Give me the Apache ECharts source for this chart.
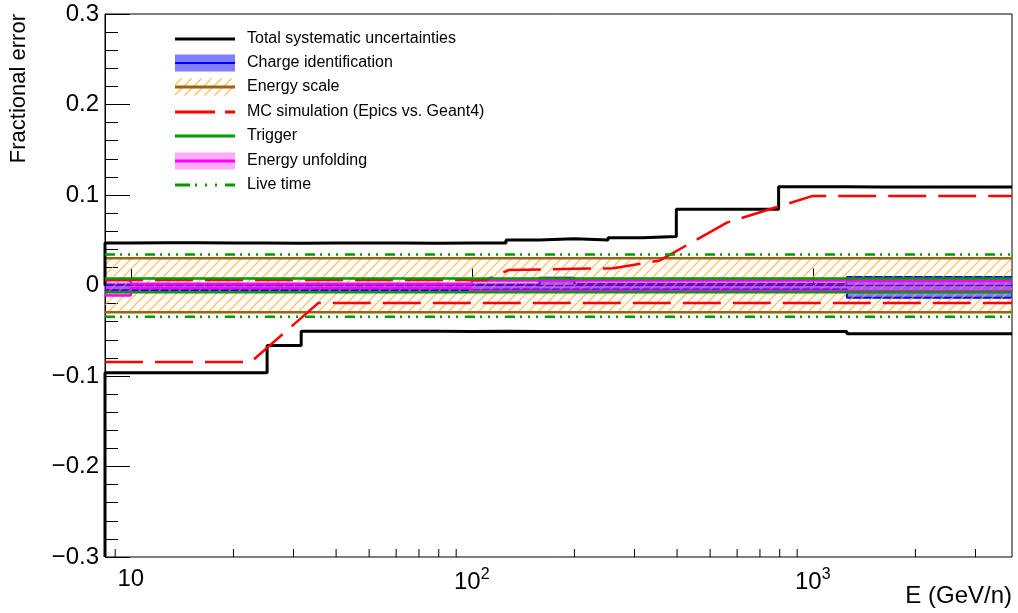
<!DOCTYPE html>
<html><head><meta charset="utf-8">
<script src="https://cdn.jsdelivr.net/npm/echarts@6/dist/echarts.min.js"></script>
<style>html,body{margin:0;padding:0;background:#fff}#c{width:1018px;height:613px}</style>
</head><body><div id="c"></div>
<script>
// ---------- data ----------
const binEdges = [8.4, 10, 12.6, 15.8, 20, 25.1, 31.6, 39.8, 50.1, 63.1, 79.4, 100, 126, 158, 200, 251, 316, 398, 501, 631, 794, 1000, 1259, 1585, 1995, 2512, 3162, 3840];
const totalUpper = [0.0470,0.0472,0.0472,0.0470,0.0470,0.0468,0.0470,0.0470,0.0470,0.0468,0.0470,0.0470,0.0503,0.0516,0.0503,0.0527,0.0541,0.0843,0.0843,0.0843,0.1090,0.1090,0.1088,0.1088,0.1088,0.1088,0.1088];
const totalLower = [-0.0965,-0.0965,-0.0965,-0.0965,-0.0965,-0.0663,-0.0505,-0.0505,-0.0505,-0.0505,-0.0508,-0.0505,-0.0508,-0.0508,-0.0508,-0.0508,-0.0508,-0.0508,-0.0508,-0.0508,-0.0508,-0.0508,-0.0534,-0.0534,-0.0534,-0.0534,-0.0534];
const chargeUpper = [0.001,0.001,0.001,0.001,0.001,0.001,0.001,0.001,0.001,0.001,0.001,0.001,0.001,0.0085,0.002,0.002,0.002,0.002,0.002,0.002,0.002,0.002,0.0095,0.0095,0.0095,0.0095,0.0095];
const chargeLower = [-0.0050,-0.0050,-0.0050,-0.0050,-0.0050,-0.0050,-0.0050,-0.0050,-0.0050,-0.0050,-0.0050,-0.0045,-0.0045,-0.0045,-0.0045,-0.0045,-0.0045,-0.0045,-0.0045,-0.0045,-0.0045,-0.0045,-0.0136,-0.0136,-0.0136,-0.0136,-0.0136];
const escaleUpper = [0.0300,0.0300,0.0300,0.0300,0.0300,0.0300,0.0300,0.0300,0.0300,0.0300,0.0300,0.0300,0.0300,0.0300,0.0300,0.0300,0.0300,0.0300,0.0300,0.0300,0.0300,0.0300,0.0300,0.0300,0.0300,0.0300,0.0300];
const escaleLower = [-0.0296,-0.0296,-0.0296,-0.0296,-0.0296,-0.0296,-0.0296,-0.0296,-0.0296,-0.0296,-0.0296,-0.0296,-0.0296,-0.0296,-0.0296,-0.0296,-0.0296,-0.0296,-0.0296,-0.0296,-0.0296,-0.0296,-0.0296,-0.0296,-0.0296,-0.0296,-0.0296];
const triggerUpper = [0.0077,0.0077,0.0077,0.0077,0.0077,0.0077,0.0077,0.0077,0.0077,0.0077,0.0077,0.0077,0.0077,0.0077,0.0077,0.0077,0.0077,0.0077,0.0077,0.0077,0.0077,0.0077,0.0077,0.0077,0.0077,0.0077,0.0077];
const triggerLower = [-0.0074,-0.0074,-0.0074,-0.0074,-0.0074,-0.0074,-0.0074,-0.0074,-0.0074,-0.0074,-0.0074,-0.0074,-0.0074,-0.0074,-0.0074,-0.0074,-0.0074,-0.0074,-0.0074,-0.0074,-0.0074,-0.0074,-0.0074,-0.0074,-0.0074,-0.0074,-0.0074];
const unfoldUpper = [0.0066,0.0020,0.0020,0.0020,0.0020,0.0020,0.0020,0.0020,0.0020,0.0020,0.0020,0.0055,0.0055,0.0055,0.0055,0.0055,0.0055,0.0055,0.0055,0.0055,0.0055,0.0055,0.0052,0.0052,0.0052,0.0052,0.0052];
const unfoldLower = [-0.011,-0.003,-0.003,-0.003,-0.003,-0.003,-0.003,-0.003,-0.003,-0.003,-0.003,-0.006,-0.006,-0.006,-0.006,-0.006,-0.006,-0.006,-0.006,-0.006,-0.006,-0.006,-0.0063,-0.0063,-0.0063,-0.0063,-0.0063];
const liveUpper = [0.0343,0.0343,0.0343,0.0343,0.0343,0.0343,0.0343,0.0343,0.0343,0.0343,0.0343,0.0343,0.0343,0.0343,0.0343,0.0343,0.0343,0.0343,0.0343,0.0343,0.0343,0.0343,0.0343,0.0343,0.0343,0.0343,0.0343];
const liveLower = [-0.0346,-0.0346,-0.0346,-0.0346,-0.0346,-0.0346,-0.0346,-0.0346,-0.0346,-0.0346,-0.0346,-0.0346,-0.0346,-0.0346,-0.0346,-0.0346,-0.0346,-0.0346,-0.0346,-0.0346,-0.0346,-0.0346,-0.0346,-0.0346,-0.0346,-0.0346,-0.0346];
const mcUpperE = [8.4, 110, 128, 200, 260, 355, 560, 1000, 3840];
const mcUpperV = [0.006, 0.006, 0.017, 0.0185, 0.019, 0.0275, 0.0695, 0.099, 0.099];
const mcLowerE = [8.4, 22.5, 35.5, 3840];
const mcLowerV = [-0.0845, -0.0845, -0.0192, -0.0192];
const xMinorTicks = [9, 20, 30, 40, 50, 60, 70, 80, 90, 200, 300, 400, 500, 600, 700, 800, 900, 2000, 3000];
const legendLabels = ['Total systematic uncertainties', 'Charge identification', 'Energy scale', 'MC simulation (Epics vs. Geant4)', 'Trigger', 'Energy unfolding', 'Live time'];
const xTitle = 'E (GeV/n)';
const yTitle = 'Fractional error';
const xMin = 8.4, xMax = 3840, yMin = -0.3, yMax = 0.3;

// ---------- helpers ----------
function stepPoints(edges, vals, startY) {
  const pts = [];
  if (startY !== undefined) pts.push([edges[0], startY]);
  for (let i = 0; i < vals.length; i++) { pts.push([edges[i], vals[i]]); pts.push([edges[i + 1], vals[i]]); }
  return pts;
}
function zipPts(xs, ys) { return xs.map((x, i) => [x, ys[i]]); }
function bandItems(edges, lo, hi) { return lo.map((v, i) => [edges[i], edges[i + 1], v, hi[i]]); }

const HATCH = '#ffa928', HATCH_STEP = 10;
function hatchLines(x0, x1, yT, yB) {
  const out = [];
  for (let c = Math.ceil((x0 + yT) / HATCH_STEP) * HATCH_STEP; c <= x1 + yB; c += HATCH_STEP) {
    const xa = Math.max(x0, c - yB), xb = Math.min(x1, c - yT);
    if (xb > xa) out.push({ type: 'line', silent: true, shape: { x1: xa, y1: c - xa, x2: xb, y2: c - xb }, style: { stroke: HATCH, lineWidth: 1.2, opacity: 0.75 } });
  }
  return out;
}

function bandSeries(name, items, fill, z, hatched) {
  return {
    type: 'custom', name, data: items, z, silent: true, clip: true,
    encode: { x: [0, 1], y: [2, 3] },
    renderItem(params, api) {
      const a = api.coord([api.value(0), api.value(3)]);
      const b = api.coord([api.value(1), api.value(2)]);
      const x0 = Math.round(a[0]), x1 = Math.round(b[0]);
      if (hatched) return { type: 'group', children: hatchLines(x0, x1, a[1], b[1]) };
      return { type: 'rect', shape: { x: x0, y: a[1], width: x1 - x0, height: b[1] - a[1] }, style: { fill } };
    }
  };
}
function lineSeries(name, data, color, width, dash, z) {
  return {
    type: 'line', name, data, z, symbol: 'none', silent: true, animation: false,
    lineStyle: { color, width, type: dash || 'solid' }
  };
}

const BLUE = '#0000ff', BLUEFILL = 'rgba(0,0,255,0.5)', BROWN = '#9c6410', RED = '#ff0000',
  GREEN = '#009900', MAG = '#ff00ff', PINK = 'rgba(255,0,255,0.33)';
const mcDash = [38, 12];
const liveDash = [10, 5, 2, 6, 2, 6, 2, 7];

const series = [
  bandSeries('Charge identification', bandItems(binEdges, chargeLower, chargeUpper), BLUEFILL, 1),
  lineSeries('cu', stepPoints(binEdges, chargeUpper), BLUE, 2, null, 2),
  lineSeries('cl', stepPoints(binEdges, chargeLower), BLUE, 2, null, 2),
  bandSeries('Energy scale', bandItems(binEdges, escaleLower, escaleUpper), null, 3, true),
  lineSeries('eu', stepPoints(binEdges, escaleUpper), BROWN, 2.5, null, 4),
  lineSeries('el', stepPoints(binEdges, escaleLower), BROWN, 2.5, null, 4),
  bandSeries('Energy unfolding', bandItems(binEdges, unfoldLower, unfoldUpper), PINK, 5),
  lineSeries('uu', stepPoints(binEdges, unfoldUpper), MAG, 2.5, null, 6),
  lineSeries('ul', stepPoints(binEdges, unfoldLower), MAG, 2.5, null, 6),
  lineSeries('tu', stepPoints(binEdges, totalUpper, 0), '#000', 3, null, 7),
  lineSeries('tl', stepPoints(binEdges, totalLower, yMin), '#000', 3, null, 7),
  lineSeries('mu', zipPts(mcUpperE, mcUpperV), RED, 2.5, mcDash, 8),
  lineSeries('ml', zipPts(mcLowerE, mcLowerV), RED, 2.5, mcDash, 8),
  lineSeries('gu', stepPoints(binEdges, triggerUpper), GREEN, 2.5, null, 9),
  lineSeries('gl', stepPoints(binEdges, triggerLower), GREEN, 2.5, null, 9),
  lineSeries('lu', stepPoints(binEdges, liveUpper), GREEN, 2.5, liveDash, 10),
  lineSeries('ll', stepPoints(binEdges, liveLower), GREEN, 2.5, liveDash, 10),
  {
    type: 'custom', name: 'minor ticks', data: xMinorTicks.map(v => [v, yMin]), z: 20, silent: true,
    encode: { x: 0, y: 1 },
    renderItem(params, api) {
      const p = api.coord([api.value(0), api.value(1)]);
      return { type: 'line', shape: { x1: p[0], y1: p[1], x2: p[0], y2: p[1] - 8 }, style: { stroke: '#000', lineWidth: 1 } };
    }
  }
];

// legend drawn as graphics
const rowY = [39, 63, 87, 112, 136, 161, 185];
const IX0 = 175, IX1 = 235, TX = 247;
const lg = [];
function hline(y, color, w, dash) { return { type: 'line', shape: { x1: IX0, y1: y, x2: IX1, y2: y }, style: { stroke: color, lineWidth: w, lineDash: dash || null } }; }
function box(y, fill) { return { type: 'rect', shape: { x: IX0, y: y - 8.5, width: IX1 - IX0, height: 17 }, style: { fill } }; }
lg.push(hline(rowY[0], '#000', 3));
lg.push(box(rowY[1], BLUEFILL), hline(rowY[1], BLUE, 2));
hatchLines(IX0, IX1, rowY[2] - 8.5, rowY[2] + 8.5).forEach(h => lg.push(h));
lg.push(hline(rowY[2], BROWN, 3));
lg.push(hline(rowY[3], RED, 3, [40, 10]));
lg.push(hline(rowY[4], GREEN, 3));
lg.push(box(rowY[5], PINK), hline(rowY[5], MAG, 3));
lg.push(hline(rowY[6], GREEN, 3, [15, 5, 2, 8, 2, 8, 2, 8]));
legendLabels.forEach((t, i) => lg.push({ type: 'text', x: TX, y: rowY[i], style: { text: t, font: '16px "Liberation Sans", Arial, sans-serif', fill: '#000', verticalAlign: 'middle', align: 'left' } }));

const chart = echarts.init(document.getElementById('c'), null, { renderer: 'canvas' });
chart.setOption({
  animation: false,
  backgroundColor: '#fff',
  textStyle: { fontFamily: '"Liberation Sans", Arial, sans-serif' },
  grid: { left: 105, right: 6, top: 14, bottom: 56, show: true, borderColor: '#000', borderWidth: 1, backgroundColor: 'transparent' },
  xAxis: {
    type: 'log', logBase: 10, min: xMin, max: xMax,
    axisLine: { show: true, lineStyle: { color: '#000', width: 1 } },
    axisTick: { show: true, inside: true, length: 17, lineStyle: { color: '#000', width: 1 } },
    splitLine: { show: false },
    axisLabel: {
      showMinLabel: false, showMaxLabel: false, margin: 10, color: '#000',
      formatter: v => { const e = Math.round(Math.log10(v)); return e === 1 ? '{b|10}' : '{b|10}{s|' + e + '}'; },
      rich: { b: { fontSize: 24, color: '#000' }, s: { fontSize: 16, color: '#000', verticalAlign: 'bottom', padding: [0, 0, 14, 0] } }
    }
  },
  yAxis: {
    type: 'value', min: yMin, max: yMax, interval: 0.1,
    axisLine: { show: true, lineStyle: { color: '#000', width: 1 } },
    axisTick: { show: true, inside: true, length: 25, lineStyle: { color: '#000', width: 1 } },
    minorTick: { show: true, splitNumber: 5, length: 13, lineStyle: { color: '#000', width: 1 } },
    splitLine: { show: false },
    axisLabel: {
      margin: 6, fontSize: 24, color: '#000',
      formatter: v => Math.abs(v) < 1e-9 ? '0' : (v < 0 ? '\u2212' : '') + Math.abs(v).toFixed(1)
    }
  },
  graphic: [
    { type: 'group', children: lg },
    { type: 'text', x: 1012, y: 584, style: { text: xTitle, font: '24px "Liberation Sans", Arial, sans-serif', fill: '#000', align: 'right', verticalAlign: 'top' } },
    { type: 'text', x: 19, y: 14, rotation: Math.PI / 2, style: { text: yTitle, font: '22px "Liberation Sans", Arial, sans-serif', fill: '#000', align: 'right', verticalAlign: 'middle' } }
  ],
  series
});
</script></body></html>
